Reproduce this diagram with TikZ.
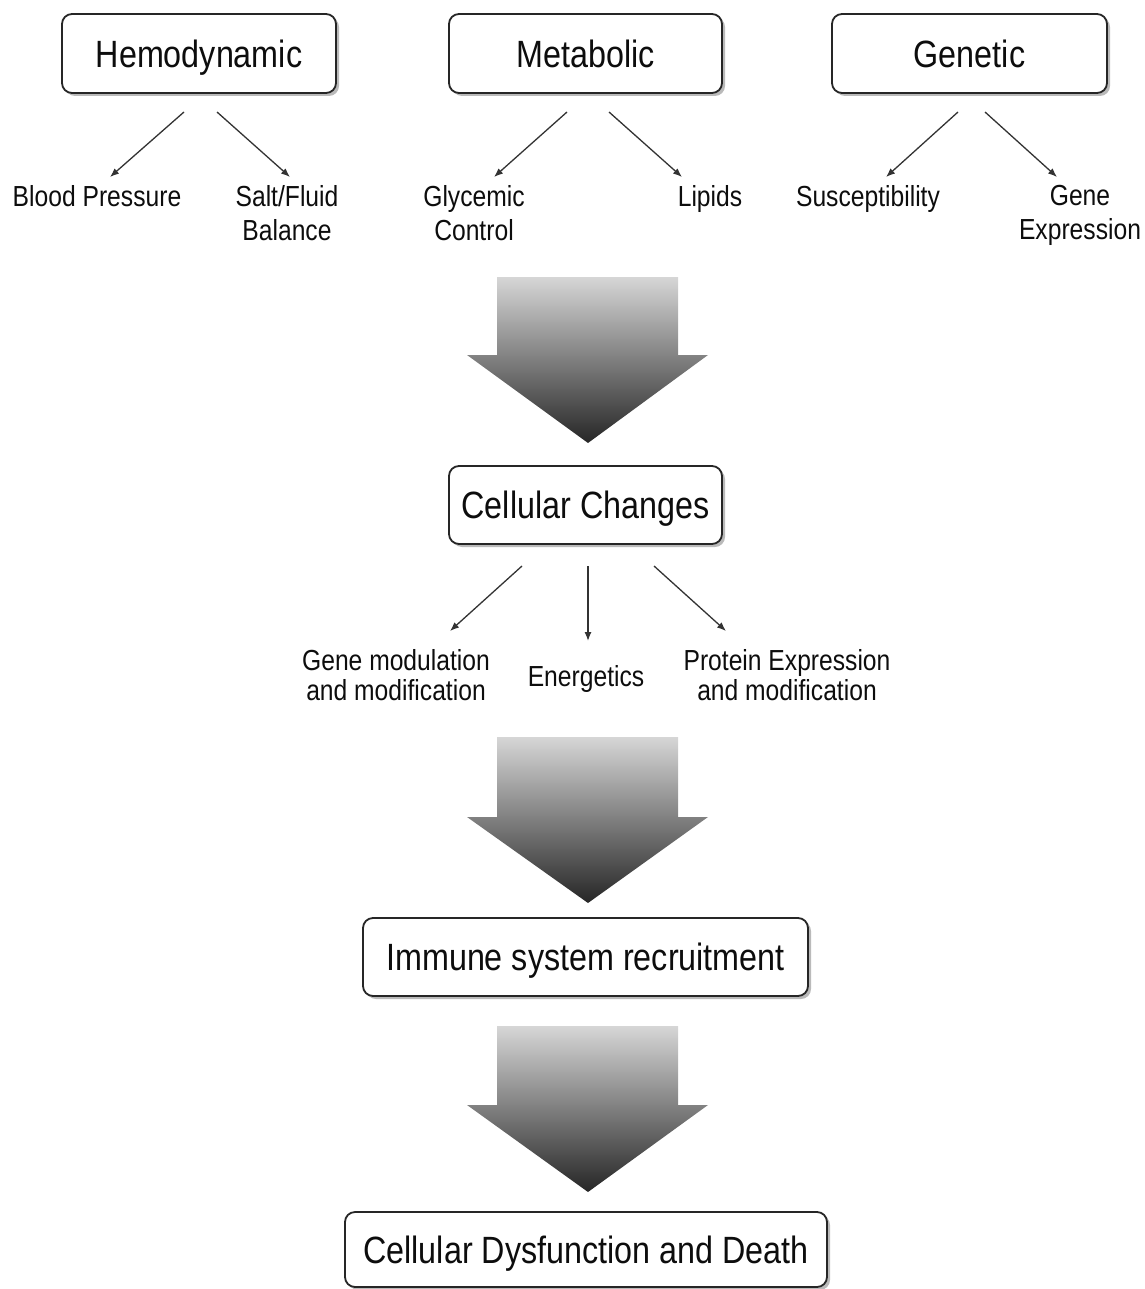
\documentclass[tikz,border=0pt]{standalone}
\usepackage{fontspec}
\setmainfont{Liberation Sans}[FakeStretch=0.85]
\usetikzlibrary{shadows,arrows.meta}
\begin{document}
\begin{tikzpicture}[x=1pt,y=-1pt,
  box/.style={draw=black!85,line width=1.8pt,rounded corners=10pt,fill=white,
    drop shadow={shadow xshift=3pt,shadow yshift=-3pt,fill=black!45,opacity=0.6},
    font=\fontsize{38}{40}\selectfont,text=black!95,inner sep=0pt,
    text height=27.2pt,text depth=0pt},
  lbl/.style={font=\fontsize{29}{34}\selectfont,text=black!95,align=center,inner sep=0pt},
  lbl2/.style={font=\fontsize{29}{30}\selectfont,text=black!95,align=center,inner sep=0pt},
  thin/.style={draw=black!80,line width=1.3pt,-{Latex[length=9pt,width=7pt]}},
  bigarrow/.style={top color=black!16,bottom color=black!85,draw=none}]
\useasboundingbox (0,0) rectangle (1144,1289);
% top boxes
\node[box,minimum width=274pt,minimum height=79pt] (hemo) at (199,53.5) {Hemodynamic};
\node[box,minimum width=273pt,minimum height=79pt] (meta) at (585.5,53.5) {Metabolic};
\node[box,minimum width=275pt,minimum height=79pt] (gene) at (969.5,53.5) {Genetic};
% sub labels
\node[lbl] (bp) at (97,196) {Blood Pressure};
\node[lbl] (salt) at (287,213) {Salt/Fluid\\Balance};
\node[lbl] (glyc) at (474,213) {Glycemic\\Control};
\node[lbl] (lip) at (710,199) {Lipids};
\node[lbl] (susc) at (868,199) {Susceptibility};
\node[lbl] (gexp) at (1080,215) {Gene\\Expression};
% arrow endpoints
\coordinate (h1) at (184,112); \coordinate (h1e) at (110,177);
\coordinate (h2) at (217,112); \coordinate (h2e) at (290,177);
\coordinate (m1) at (567,112); \coordinate (m1e) at (494,177);
\coordinate (m2) at (609,112); \coordinate (m2e) at (682,177);
\coordinate (g1) at (958,112); \coordinate (g1e) at (886,177);
\coordinate (g2) at (985,112); \coordinate (g2e) at (1057,177);
\draw[thin] (h1) -- (h1e);
\draw[thin] (h2) -- (h2e);
\draw[thin] (m1) -- (m1e);
\draw[thin] (m2) -- (m2e);
\draw[thin] (g1) -- (g1e);
\draw[thin] (g2) -- (g2e);
% big arrow 1
\shade[bigarrow] (497,277) -- (678,277) -- (678,355) -- (708,355) -- (588,443) -- (467,355) -- (497,355) -- cycle;
% cellular changes
\node[box,minimum width=273pt,minimum height=78pt] (cell) at (585.5,505) {Cellular Changes};
\node[lbl2] (gm) at (396,675) {Gene modulation\\and modification};
\node[lbl2] (en) at (586,679) {Energetics};
\node[lbl2] (pe) at (787,675) {Protein Expression\\and modification};
\coordinate (c1) at (522,566); \coordinate (c1e) at (450,631);
\coordinate (c2) at (588,566); \coordinate (c2e) at (588,641);
\coordinate (c3) at (654,566); \coordinate (c3e) at (726,631);
\draw[thin] (c1) -- (c1e);
\draw[thin] (c2) -- (c2e);
\draw[thin] (c3) -- (c3e);
% big arrow 2
\shade[bigarrow] (497,737) -- (678,737) -- (678,817) -- (708,817) -- (588,903) -- (467,817) -- (497,817) -- cycle;
\node[box,minimum width=445pt,minimum height=78pt] (imm) at (585.5,957) {Immune system recruitment};
% big arrow 3
\shade[bigarrow] (497,1026) -- (678,1026) -- (678,1105) -- (708,1105) -- (588,1192) -- (467,1105) -- (497,1105) -- cycle;
\node[box,minimum width=482pt,minimum height=75pt] (dys) at (586,1249.5) {Cellular Dysfunction and Death};
\end{tikzpicture}
\end{document}
